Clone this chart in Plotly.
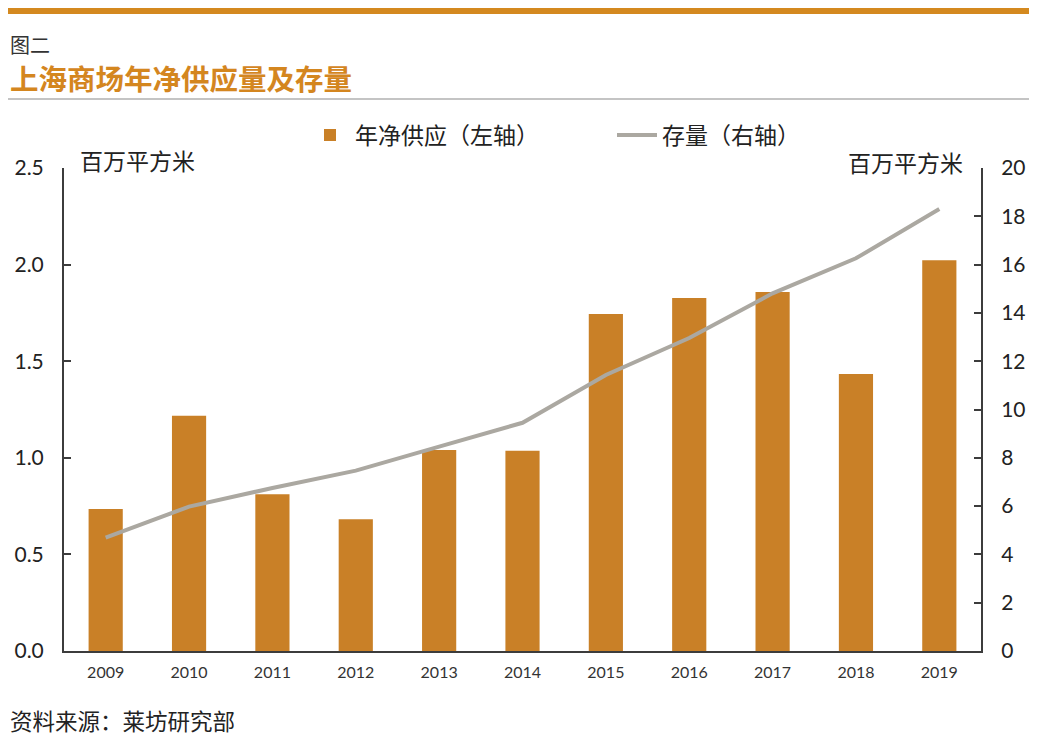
import plotly.graph_objects as go

years = ["2009", "2010", "2011", "2012", "2013", "2014", "2015", "2016", "2017", "2018", "2019"]
net_supply = [0.735, 1.218, 0.811, 0.682, 1.040, 1.037, 1.744, 1.827, 1.858, 1.434, 2.022]
stock = [4.69, 5.98, 6.75, 7.47, 8.46, 9.45, 11.43, 12.96, 14.81, 16.26, 18.30]

left_ticks = [0, 0.5, 1.0, 1.5, 2.0, 2.5]
left_tick_text = ["0.0", "0.5", "1.0", "1.5", "2.0", "2.5"]
right_ticks = [0, 2, 4, 6, 8, 10, 12, 14, 16, 18, 20]

CJK = "Noto Sans CJK SC"
NUM = "Lato, Noto Sans CJK SC"
ORANGE = "#c98027"
GREY_LINE = "#aba8a1"
AXIS = "#3c3c3c"

# the page body adds an 8px offset, so the figure is sized to the remaining window
W, H = 1029, 736
PW, PH = 917, 483  # plot area size in pixels


def px_x(win_x):
    return (win_x - 64) / PW


def px_y(win_y):
    return (651 - win_y) / PH


fig = go.Figure()
fig.add_trace(go.Bar(
    x=years, y=net_supply, name="年净供应（左轴）",
    marker=dict(color=ORANGE, line=dict(width=0)), width=0.41, yaxis="y",
))
fig.add_trace(go.Scatter(
    x=years, y=stock, name="存量（右轴）", mode="lines",
    line=dict(color=GREY_LINE, width=4), yaxis="y2",
))

fig.update_layout(
    width=W, height=H,
    margin=dict(l=56, r=56, t=160, b=93, autoexpand=False),
    paper_bgcolor="white", plot_bgcolor="white",
    font=dict(family=CJK, color="#222222"),
    showlegend=True,
    legend=dict(
        orientation="h", x=px_x(305), xanchor="left", y=px_y(135), yanchor="middle",
        font=dict(size=23, family=CJK, color="#222222"),
        entrywidth=252, entrywidthmode="pixels", itemwidth=40,
        bgcolor="rgba(0,0,0,0)",
    ),
    xaxis=dict(
        type="category", showline=True, linecolor=AXIS, linewidth=2,
        ticks="", tickfont=dict(size=16, color="#333333", family=NUM),
        ticklabelstandoff=6, showgrid=False, zeroline=False,
    ),
    yaxis=dict(
        range=[0, 2.5], tickvals=left_ticks, ticktext=left_tick_text,
        showline=True, linecolor=AXIS, linewidth=2,
        ticks="inside", ticklen=7, tickcolor=AXIS, tickwidth=2,
        tickfont=dict(size=21, color="#222222", family=NUM), ticklabelstandoff=14,
        showgrid=False, zeroline=False,
    ),
    yaxis2=dict(
        range=[0, 20], tickvals=right_ticks, overlaying="y", side="right",
        showline=True, linecolor=AXIS, linewidth=2,
        ticks="inside", ticklen=7, tickcolor=AXIS, tickwidth=2,
        tickfont=dict(size=21, color="#222222", family=NUM), ticklabelstandoff=14,
        showgrid=False, zeroline=False,
    ),
    bargap=0.59,
)

# decorative header bar and divider
fig.add_shape(type="rect", xref="paper", yref="paper",
              x0=px_x(8), x1=px_x(1040),
              y0=px_y(14), y1=px_y(8),
              fillcolor="#d4891f", line=dict(width=0))
fig.add_shape(type="line", xref="paper", yref="paper",
              x0=px_x(8), x1=px_x(1030),
              y0=px_y(99), y1=px_y(99),
              line=dict(color="#b0b0b0", width=1.5))

annotations = [
    dict(text="图二", x=px_x(8), y=px_y(44), xanchor="left", yanchor="middle",
         font=dict(size=20, color="#333333", family=CJK)),
    dict(text="<b>上海商场年净供应量及存量</b>", x=px_x(8), y=px_y(77),
         xanchor="left", yanchor="middle",
         font=dict(size=28.5, color="#d4861f", family=CJK)),
    dict(text="百万平方米", x=px_x(78), y=px_y(160), xanchor="left", yanchor="middle",
         font=dict(size=23, color="#222222", family=CJK)),
    dict(text="百万平方米", x=px_x(965), y=px_y(162), xanchor="right", yanchor="middle",
         font=dict(size=23, color="#222222", family=CJK)),
    dict(text="资料来源：莱坊研究部", x=px_x(8), y=px_y(720), xanchor="left", yanchor="middle",
         font=dict(size=22.5, color="#222222", family=CJK)),
]
for a in annotations:
    a.update(xref="paper", yref="paper", showarrow=False)
fig.update_layout(annotations=annotations)

fig.write_html("out.html")
